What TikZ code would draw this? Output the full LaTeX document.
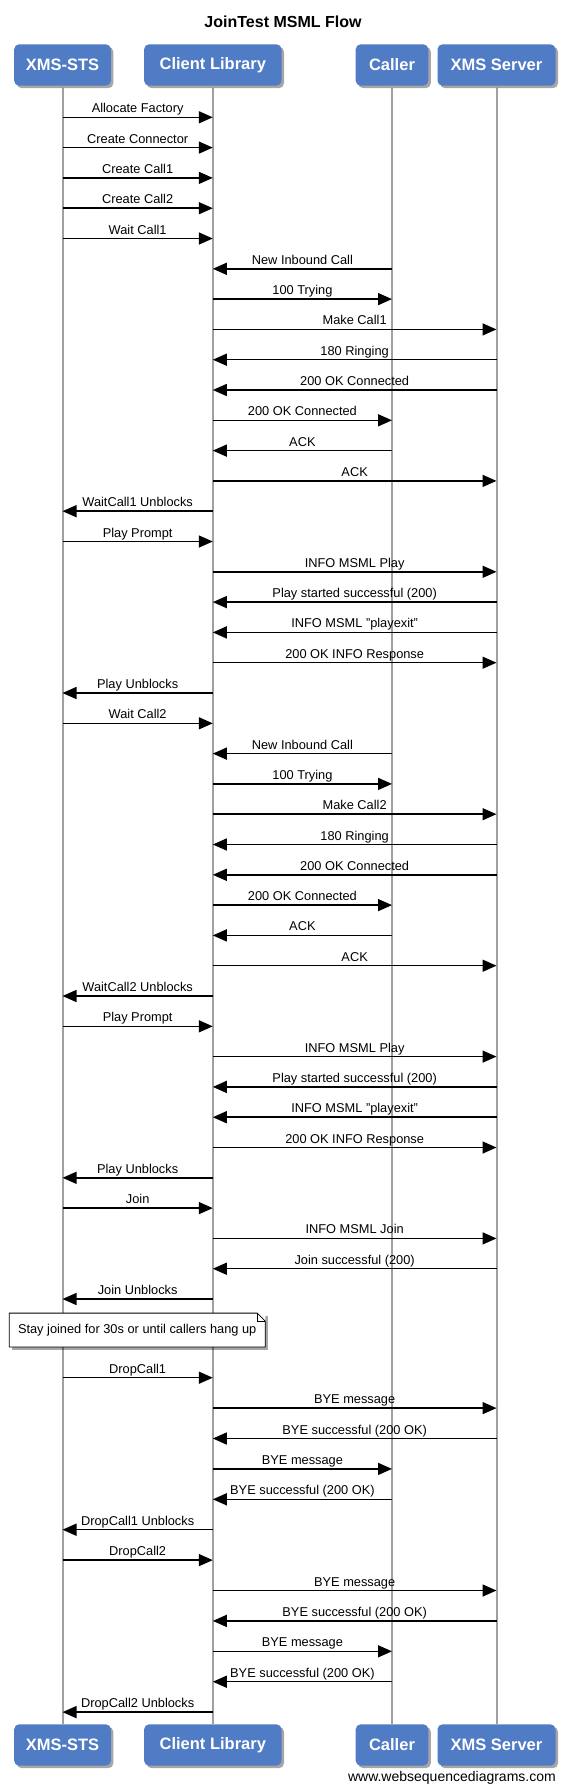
\documentclass[tikz,border=0pt]{standalone}
\usepackage{fontspec}
\setmainfont{Liberation Sans}
\usetikzlibrary{arrows.meta,positioning,calc,shadows}

\definecolor{actorblue}{RGB}{80,123,197}
\definecolor{lifegray}{RGB}{160,160,160}

\begin{document}
\begin{tikzpicture}[x=1pt, y=-1pt, >={Triangle[length=14pt,width=12pt]},
    actor/.style={fill=actorblue, text=white, rounded corners=5pt, minimum height=41.4pt, inner sep=0pt,
      font=\bfseries\fontsize{16.5}{19}\selectfont,
      drop shadow={shadow xshift=2.5pt, shadow yshift=-2.5pt, fill=black, opacity=0.35}},
    lifeline/.style={draw=lifegray, line width=2pt},
    msg/.style={->, line width=1.5pt},
    msglabel/.style={anchor=base, yshift=4.5pt, inner sep=0pt, font=\fontsize{12.8}{15}\selectfont},
    notebox/.style={fill=white, minimum width=255.7pt, minimum height=33.4pt, inner sep=0pt,
      font=\fontsize{12.8}{15}\selectfont,
      drop shadow={shadow xshift=3pt, shadow yshift=-3pt, fill=black, opacity=0.35}}]
  \useasboundingbox (0,0) rectangle (565,1791);

  \node[anchor=base, font=\bfseries\fontsize{16}{19}\selectfont] (title) at (283,27.3) {JoinTest MSML Flow};

  % participants, top and bottom
  \node[actor, minimum width=96.7pt] (sts) at (62.5,65) {XMS-STS};
  \node[actor, minimum width=137.4pt] (lib) at (212.8,65) {Client Library};
  \node[actor, minimum width=72.6pt] (caller) at (392,65) {Caller};
  \node[actor, minimum width=118pt] (server) at (496.5,65) {XMS Server};
  \node[actor, minimum width=96.7pt] (sts2) at (62.5,1745) {XMS-STS};
  \node[actor, minimum width=137.4pt] (lib2) at (212.8,1745) {Client Library};
  \node[actor, minimum width=72.6pt] (caller2) at (392,1745) {Caller};
  \node[actor, minimum width=118pt] (server2) at (496.5,1745) {XMS Server};

  \draw[lifeline] (sts) -- (sts2);
  \draw[lifeline] (lib) -- (lib2);
  \draw[lifeline] (caller) -- (caller2);
  \draw[lifeline] (server) -- (server2);

  % messages before the note
  \foreach \src/\dst/\txt [count=\n] in {
      sts/lib/Allocate Factory, sts/lib/Create Connector, sts/lib/Create Call1, sts/lib/Create Call2,
      sts/lib/Wait Call1, caller/lib/New Inbound Call, lib/caller/100 Trying, lib/server/Make Call1,
      server/lib/180 Ringing, server/lib/200 OK Connected, lib/caller/200 OK Connected, caller/lib/ACK,
      lib/server/ACK, lib/sts/WaitCall1 Unblocks, sts/lib/Play Prompt, lib/server/INFO MSML Play,
      server/lib/Play started successful (200), server/lib/INFO MSML "playexit",
      lib/server/200 OK INFO Response, lib/sts/Play Unblocks, sts/lib/Wait Call2,
      caller/lib/New Inbound Call, lib/caller/100 Trying, lib/server/Make Call2, server/lib/180 Ringing,
      server/lib/200 OK Connected, lib/caller/200 OK Connected, caller/lib/ACK, lib/server/ACK,
      lib/sts/WaitCall2 Unblocks, sts/lib/Play Prompt, lib/server/INFO MSML Play,
      server/lib/Play started successful (200), server/lib/INFO MSML "playexit",
      lib/server/200 OK INFO Response, lib/sts/Play Unblocks, sts/lib/Join, lib/server/INFO MSML Join,
      server/lib/Join successful (200), lib/sts/Join Unblocks}
  {
    \pgfmathsetmacro\ypos{117.3+30.3*(\n-1)}
    \coordinate (a\n) at (\src |- 0,\ypos);
    \coordinate (b\n) at (\dst |- 0,\ypos);
    \draw[msg] (a\n) -- (b\n);
    \node[msglabel] (t\n) at ($(a\n)!0.5!(b\n)$) {\txt};
  }

  % note
  \node[notebox] (note) at (137.2,1330) {Stay joined for 30s or until callers hang up};
  \fill[white] ([xshift=-8pt]note.north east) -- (note.north east) -- ([yshift=-8pt]note.north east) -- cycle;
  \draw[line width=0.8pt] ([xshift=-8pt]note.north east) -- (note.north west) -- (note.south west)
    -- (note.south east) -- ([yshift=-8pt]note.north east) -- cycle;
  \draw[line width=0.6pt] ([xshift=-8pt]note.north east) |- ([yshift=-8pt]note.north east);

  % messages after the note
  \foreach \src/\dst/\txt [count=\n from 41] in {
      sts/lib/DropCall1, lib/server/BYE message, server/lib/BYE successful (200 OK),
      lib/caller/BYE message, caller/lib/BYE successful (200 OK), lib/sts/DropCall1 Unblocks,
      sts/lib/DropCall2, lib/server/BYE message, server/lib/BYE successful (200 OK),
      lib/caller/BYE message, caller/lib/BYE successful (200 OK), lib/sts/DropCall2 Unblocks}
  {
    \pgfmathsetmacro\ypos{1377.7+30.4*(\n-41)}
    \coordinate (a\n) at (\src |- 0,\ypos);
    \coordinate (b\n) at (\dst |- 0,\ypos);
    \draw[msg] (a\n) -- (b\n);
    \node[msglabel] (t\n) at ($(a\n)!0.5!(b\n)$) {\txt};
  }

  \node[anchor=base east, inner sep=0pt, font=\fontsize{14}{16}\selectfont] (site) at (556,1781) {www.websequencediagrams.com};
\end{tikzpicture}
\end{document}
